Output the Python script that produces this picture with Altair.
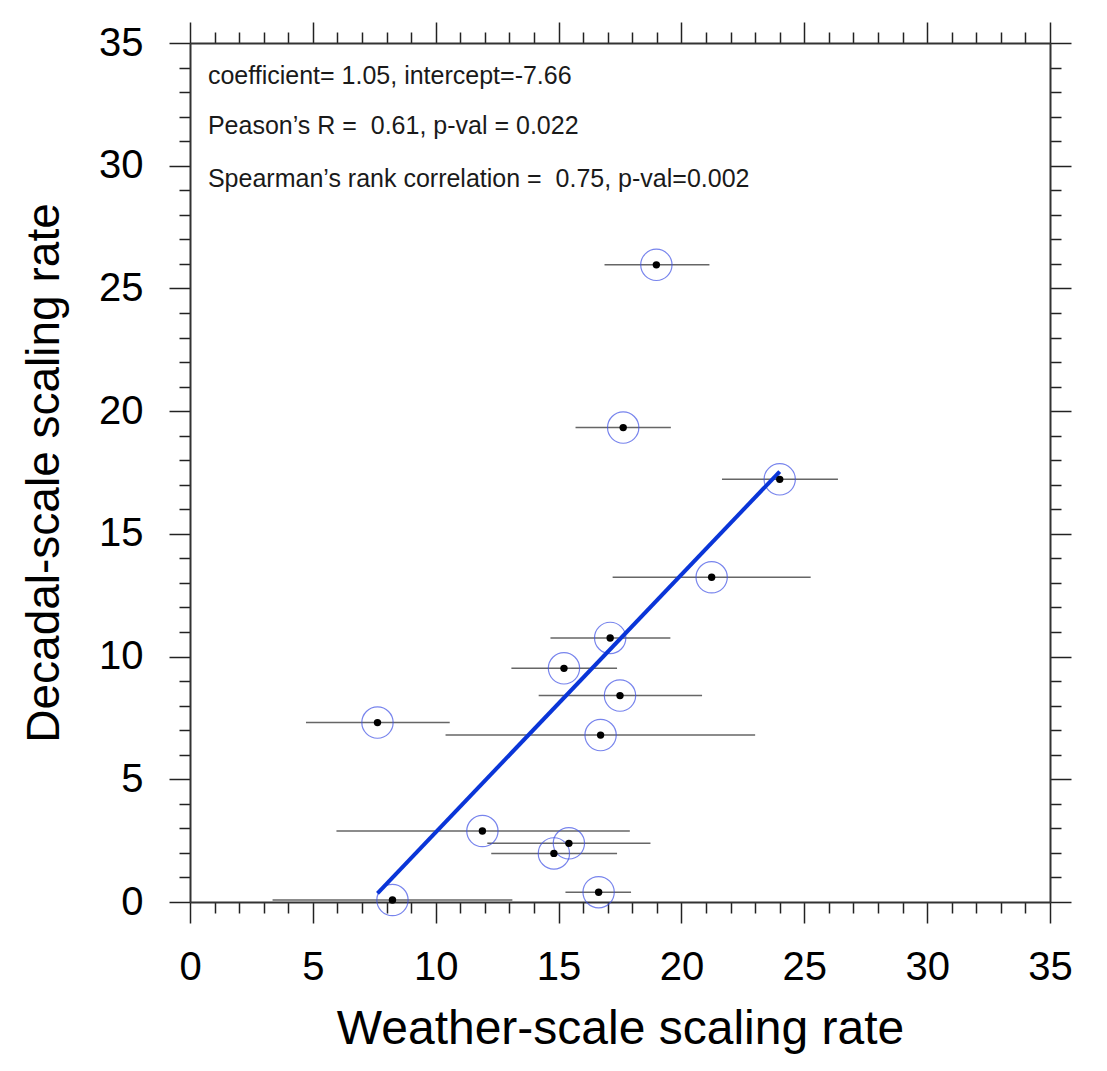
import altair as alt
import pandas as pd

# ---- data ----
weather_rate = [18.98, 17.63, 24.00, 21.23, 17.10, 15.22, 17.50, 16.71, 7.63, 11.90, 15.42, 14.81, 16.63, 8.24]
decadal_rate = [25.96, 19.33, 17.22, 13.23, 10.76, 9.52, 8.41, 6.80, 7.31, 2.89, 2.39, 1.98, 0.40, 0.08]
weather_lo = [16.87, 15.69, 21.65, 17.20, 14.67, 13.08, 14.19, 10.40, 4.72, 5.96, 12.10, 12.26, 15.28, 3.36]
weather_hi = [21.14, 19.57, 26.37, 25.26, 19.55, 17.38, 20.84, 23.00, 10.57, 17.90, 18.74, 17.38, 17.95, 13.12]

coef = 1.05
intercept = -7.66

stat_lines = [
    "coefficient= 1.05, intercept=-7.66",
    "Peason\u2019s R = \u00a00.61, p-val = 0.022",
    "Spearman\u2019s rank correlation = \u00a00.75, p-val=0.002",
]
stat_x = [0.73, 0.73, 0.73]
stat_y = [33.33, 31.30, 29.14]

axis_values = list(range(0, 36))
x_title = "Weather-scale scaling rate"
y_title = "Decadal-scale scaling rate"

FONT = "Liberation Sans"

pts = pd.DataFrame({"x": weather_rate, "y": decadal_rate, "lo": weather_lo, "hi": weather_hi})
fit_x = [min(weather_rate), max(weather_rate)]
fit = pd.DataFrame({"x": fit_x, "y": [coef * v + intercept for v in fit_x]})
stats = pd.DataFrame({"t": stat_lines, "x": stat_x, "y": stat_y})

scale = alt.Scale(domain=[0, 35], nice=False, zero=False)
tick_cond = {"condition": {"test": "datum.value % 5 === 0", "value": 21}, "value": 11}
label_expr = "datum.value % 5 === 0 ? datum.label : ''"

common = dict(
    values=axis_values,
    tickSize=tick_cond,
    tickWidth=1.5,
    tickColor="#222222",
    domainColor="#333333",
    domainWidth=2,
    grid=False,
    labelOverlap=False,
    labelFlush=False,
    labelBound=False,
)

x_bottom = alt.Axis(orient="bottom", labelExpr=label_expr, labelFontSize=40, labelPadding=24,
                    labelColor="black", title=x_title, titleFontSize=48, titleFontWeight="normal",
                    titleColor="black", titlePadding=18, **common)
y_left = alt.Axis(orient="left", labelExpr=label_expr, labelFontSize=40, labelPadding=26,
                  labelColor="black", title=y_title, titleFontSize=46, titleFontWeight="normal",
                  titleColor="black", titlePadding=30, **common)
x_top = alt.Axis(orient="top", labels=False, title=None, **common)
y_right = alt.Axis(orient="right", labels=False, title=None, **common)

bars = alt.Chart(pts).mark_rule(color="#666666", strokeWidth=1.5).encode(
    x=alt.X("lo:Q", scale=scale, axis=x_bottom),
    x2="hi:Q",
    y=alt.Y("y:Q", scale=scale, axis=y_left),
)

circles = alt.Chart(pts).mark_point(shape="circle", size=980, filled=False, color="#3f51e6",
                                    strokeWidth=1.2, clip=False).encode(
    x=alt.X("x:Q", scale=scale, axis=None),
    y=alt.Y("y:Q", scale=scale, axis=None),
)

line = alt.Chart(fit).mark_line(color="#0a35d8", strokeWidth=4).encode(
    x=alt.X("x:Q", scale=scale, axis=None),
    y=alt.Y("y:Q", scale=scale, axis=None),
)

dots = alt.Chart(pts).mark_point(shape="circle", size=55, filled=True, color="black", opacity=1).encode(
    x=alt.X("x:Q", scale=scale, axis=x_top),
    y=alt.Y("y:Q", scale=scale, axis=y_right),
)

text = alt.Chart(stats).mark_text(align="left", baseline="alphabetic", fontSize=25, font=FONT,
                                  color="#1a1a1a").encode(
    x=alt.X("x:Q", scale=scale, axis=None),
    y=alt.Y("y:Q", scale=scale, axis=None),
    text="t:N",
)

chart = alt.layer(bars, circles, line, dots, text).resolve_axis(
    x="independent", y="independent"
).properties(
    width=860,
    height=859,
    autosize=alt.AutoSizeParams(type="none"),
    padding={"left": 182, "top": 35, "right": 49, "bottom": 161},
).configure(
    font=FONT,
).configure_view(stroke=None)

chart.save("out.html", embed_options={"renderer": "svg", "actions": False})
